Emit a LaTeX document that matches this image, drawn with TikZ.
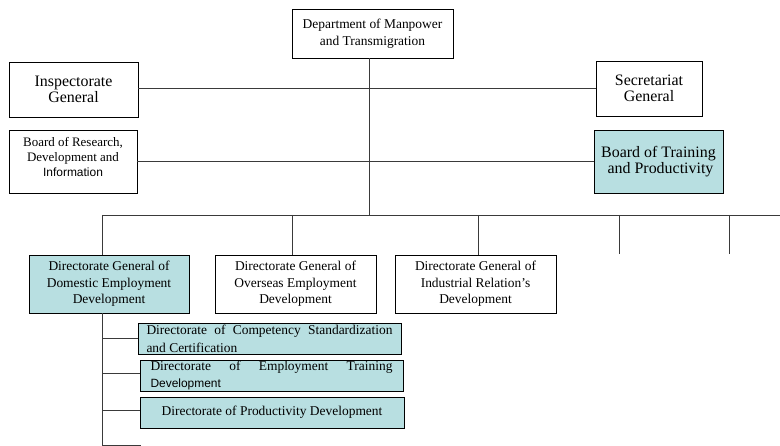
\documentclass[tikz,border=0pt]{standalone}
\usepackage{fontspec}
\setmainfont{Liberation Serif}
\newfontfamily\sansf{Liberation Sans}
\definecolor{tealbg}{HTML}{B8DFE1}
\definecolor{linec}{HTML}{3A3A3A}
\begin{document}
\begin{tikzpicture}[x=1bp,y=-1bp,
  box/.style={draw=black,line width=0.9bp,inner sep=0pt,align=center,rectangle},
  hl/.style={fill=tealbg},
  conn/.style={draw=linec,line width=0.9bp},
  fa/.style={font=\fontsize{13.5}{17.5}\selectfont},
  fb/.style={font=\fontsize{16}{15.5}\selectfont},
  fc/.style={font=\fontsize{13}{15}\selectfont},
  fd/.style={font=\fontsize{13.5}{16.5}\selectfont},
  fe/.style={font=\fontsize{13.5}{18}\selectfont}]
\useasboundingbox (0,0) rectangle (780,446);

\node[box,fa,minimum width=161bp,minimum height=49bp] (dept) at (372.5,33.5) {Department of Manpower\\and Transmigration};
\node[box,fb,minimum width=129bp,minimum height=55bp] (insp) at (73.5,89.5) {Inspectorate\\General};
\node[box,fb,minimum width=106bp,minimum height=55bp] (sec) at (649,88.5) {Secretariat\\General};
\node[box,fc,minimum width=128bp,minimum height=63bp,text depth=10bp] (bord) at (73,161.5) {Board of Research,\\Development and\\{\sansf\fontsize{12}{15}\selectfont Information}};
\node[box,hl,fb,minimum width=129bp,minimum height=63bp] (btp) at (658.5,161.5) {Board of Training\\\ and Productivity};

\node[box,hl,fd,minimum width=160bp,minimum height=58bp] (dged) at (109,284) {Directorate General of\\Domestic Employment\\Development};
\node[box,fd,minimum width=161bp,minimum height=58bp] (dgoe) at (295.5,284) {Directorate General of\\Overseas Employment\\Development};
\node[box,fd,minimum width=161bp,minimum height=58bp] (dgir) at (475.5,284) {Directorate General of\\Industrial Relation's\\Development};

\node[box,hl,fe,minimum width=263bp,minimum height=31bp,text width=246bp,align=justify,inner ysep=0pt] (dcs) at (269.5,338.5) {Directorate of Competency Standardization\linebreak and Certification};
\node[box,hl,fe,minimum width=263bp,minimum height=31bp,text width=242bp,align=justify,inner ysep=0pt] (det) at (271.5,375.5) {Directorate of Employment Training\linebreak {\sansf\fontsize{12}{18}\selectfont Development}};
\node[box,hl,fd,minimum width=264bp,minimum height=31bp,text depth=4bp] (dpd) at (272,412.5) {Directorate of Productivity Development};

% connectors
\coordinate (trunk) at (369,215);
\coordinate (busL) at (102,215);
\coordinate (busR) at (780,215);
\coordinate (drop4) at (619,254);
\coordinate (drop5) at (729,254);
\coordinate (spineEnd) at (102,446);
\coordinate (tickEnd) at (141,445);

\draw[conn] (dept.south -| trunk) -- (trunk);
\draw[conn] (insp.east |- 0,88) -- (sec.west |- 0,88);
\draw[conn] (bord.east |- 0,161) -- (btp.west |- 0,161);
\draw[conn] (busL) -- (busR);
\draw[conn] (busL) -- (dged.north -| busL);
\draw[conn] (292,215) -- (dgoe.north -| 292,0);
\draw[conn] (478,215) -- (dgir.north -| 478,0);
\draw[conn] (drop4 |- busL) -- (drop4);
\draw[conn] (drop5 |- busL) -- (drop5);
\draw[conn] (dged.south -| busL) -- (spineEnd);
\draw[conn] (102,338) -- (dcs.west |- 0,338);
\draw[conn] (102,373) -- (det.west |- 0,373);
\draw[conn] (102,410) -- (dpd.west |- 0,410);
\draw[conn] (tickEnd -| busL) -- (tickEnd);
\end{tikzpicture}
\end{document}
